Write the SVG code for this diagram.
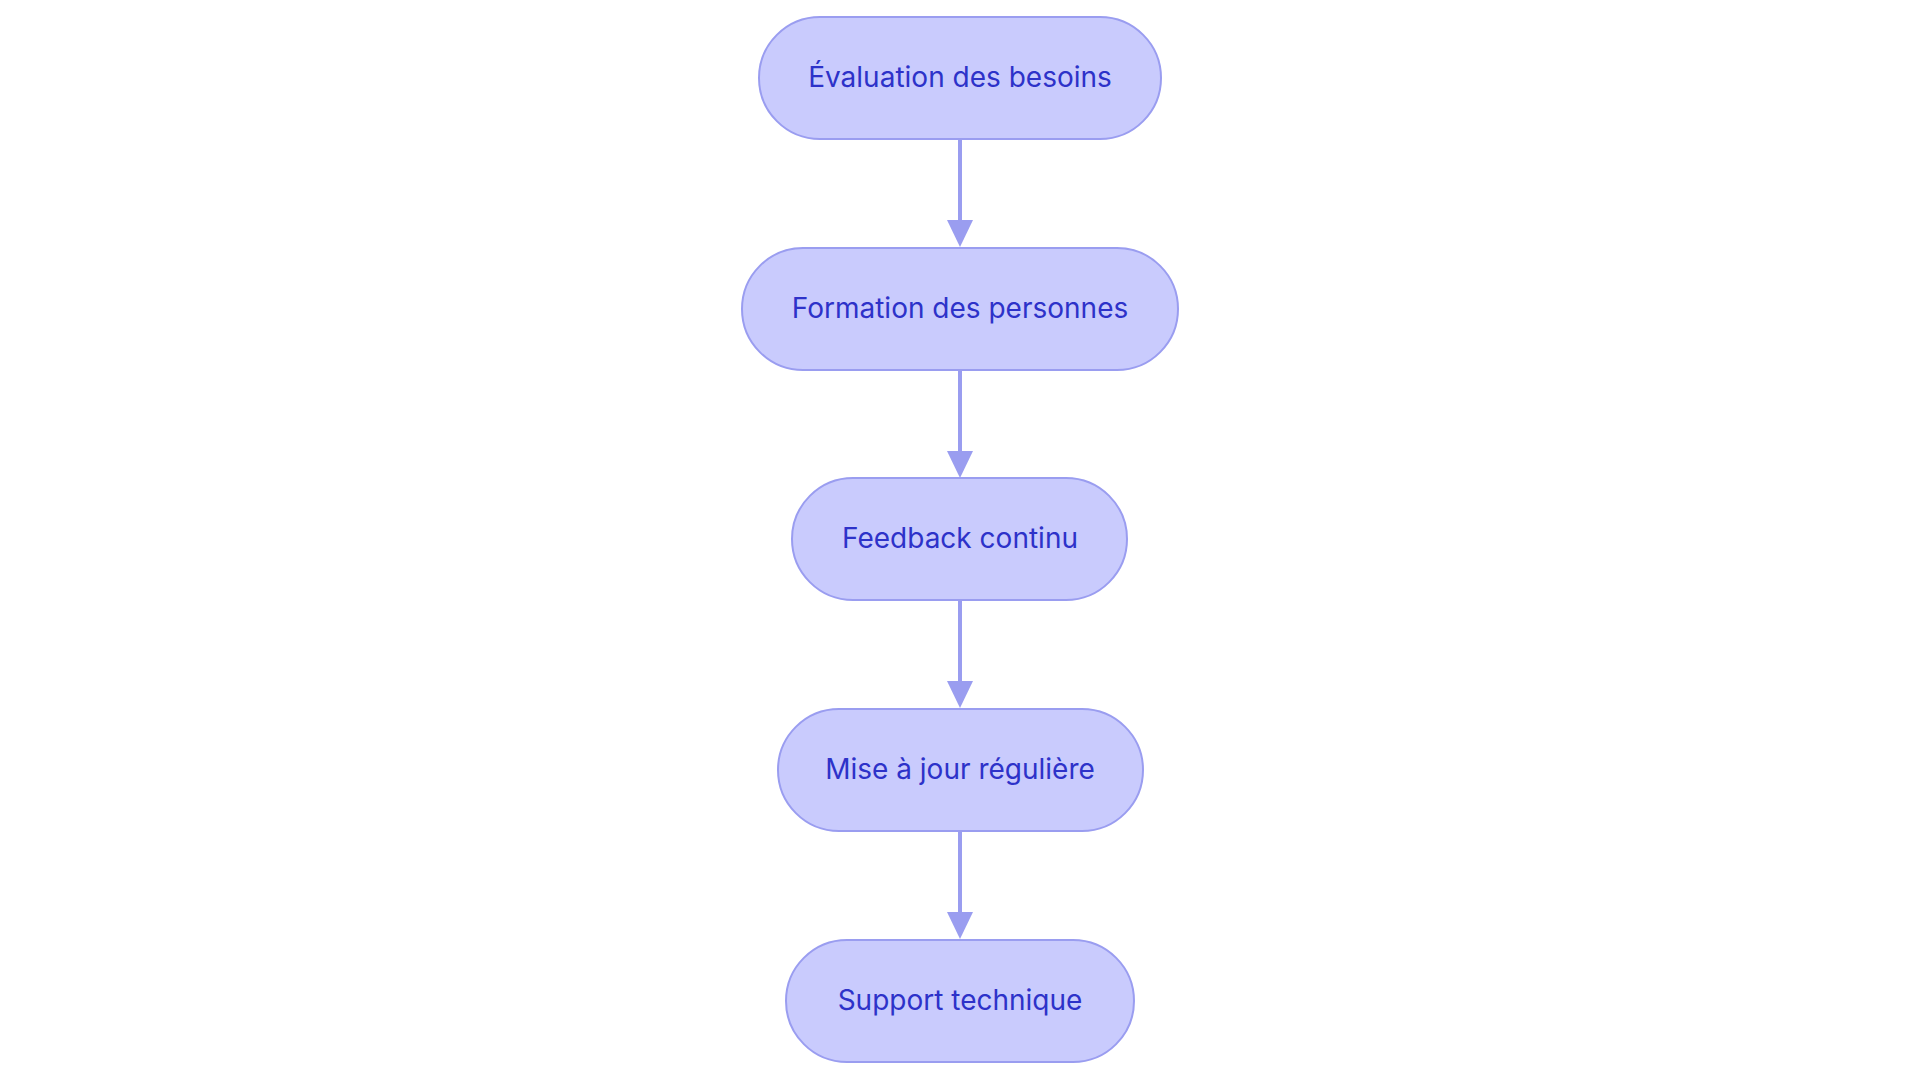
<svg xmlns="http://www.w3.org/2000/svg" width="1920" height="1083" viewBox="0 0 1920 1083">
<style>
.n rect{fill:#c9cbfd;stroke:#9a9df0;stroke-width:2}
.n text{font-family:Inter,"Open Sans",sans-serif;font-size:28px;fill:#2d32c9;text-anchor:middle;dominant-baseline:central}
.c line{stroke:#9a9df0;stroke-width:4}
</style>
<defs><marker id="a" markerWidth="10" markerHeight="10" refX="5" refY="8" orient="auto" markerUnits="userSpaceOnUse" viewBox="0 0 10 8"><path d="M0,0L10,0L5,8Z" fill="#9a9df0"/></marker></defs>
<rect width="1920" height="1083" fill="#fff"/>
<g class="c">
<line x1="960" y1="139" x2="960" y2="220"/><path d="M947,220h26l-13,27z" fill="#9a9df0"/>
<line x1="960" y1="370" x2="960" y2="451"/><path d="M947,451h26l-13,27z" fill="#9a9df0"/>
<line x1="960" y1="600" x2="960" y2="681"/><path d="M947,681h26l-13,27z" fill="#9a9df0"/>
<line x1="960" y1="831" x2="960" y2="912"/><path d="M947,912h26l-13,27z" fill="#9a9df0"/>
</g>
<g class="n" id="n1"><rect x="759" y="17" width="402" height="122" rx="61"/><text x="960" y="77">Évaluation des besoins</text></g>
<g class="n" id="n2"><rect x="742" y="248" width="436" height="122" rx="61"/><text x="960" y="308">Formation des personnes</text></g>
<g class="n" id="n3"><rect x="792" y="478" width="335" height="122" rx="61"/><text x="960" y="538">Feedback continu</text></g>
<g class="n" id="n4"><rect x="778" y="709" width="365" height="122" rx="61"/><text x="960" y="769">Mise à jour régulière</text></g>
<g class="n" id="n5"><rect x="786" y="940" width="348" height="122" rx="61"/><text x="960" y="1000">Support technique</text></g>
</svg>
